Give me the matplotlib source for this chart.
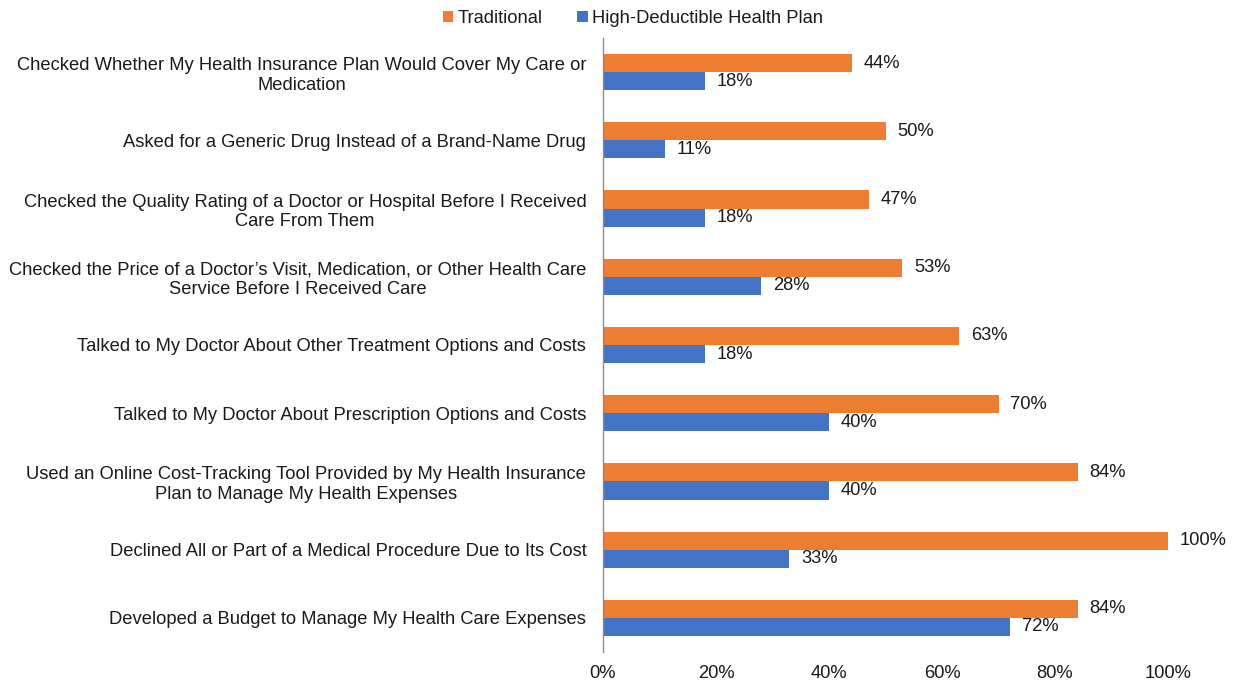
import matplotlib
matplotlib.use("Agg")
import matplotlib.pyplot as plt
import numpy as np

categories = [
    "Checked Whether My Health Insurance Plan Would Cover My Care or\nMedication",
    "Asked for a Generic Drug Instead of a Brand-Name Drug",
    "Checked the Quality Rating of a Doctor or Hospital Before I Received\nCare From Them",
    "Checked the Price of a Doctor\u2019s Visit, Medication, or Other Health Care\nService Before I Received Care",
    "Talked to My Doctor About Other Treatment Options and Costs",
    "Talked to My Doctor About Prescription Options and Costs",
    "Used an Online Cost-Tracking Tool Provided by My Health Insurance\nPlan to Manage My Health Expenses",
    "Declined All or Part of a Medical Procedure Due to Its Cost",
    "Developed a Budget to Manage My Health Care Expenses",
]
traditional = [44, 50, 47, 53, 63, 70, 84, 100, 84]
hdhp = [18, 11, 18, 28, 18, 40, 40, 33, 72]
series_names = ["Traditional", "High-Deductible Health Plan"]
xticks = [0, 20, 40, 60, 80, 100]

plt.rcParams['font.family'] = ['Liberation Sans', 'DejaVu Sans']
orange = "#ED7D31"
blue = "#4472C4"
tc = "#1a1a1a"
fs = 13.2

fig = plt.figure(figsize=(12.33, 6.82), dpi=100)
ax = fig.add_axes([603/1233, 1 - 652/682, (1168-603)/1233, (652-38)/682])

n = len(categories)
y = np.arange(n)
h = 0.265
ax.barh(y - h/2, traditional, height=h, color=orange, label=series_names[0])
ax.barh(y + h/2, hdhp, height=h, color=blue, label=series_names[1])

for yi, v in zip(y, traditional):
    ax.annotate(f"{v}%", (v, yi - h/2), xytext=(8.5, 0), textcoords="offset points",
                va="center", ha="left", fontsize=fs, color=tc)
for yi, v in zip(y, hdhp):
    ax.annotate(f"{v}%", (v, yi + h/2), xytext=(8.5, 0), textcoords="offset points",
                va="center", ha="left", fontsize=fs, color=tc)

ax.set_ylim(n - 0.5, -0.5)
ax.set_xlim(0, 100)
ax.set_yticks(y)
ax.set_yticklabels(categories, fontsize=fs, color=tc, multialignment="center")
ax.set_xticks(xticks)
ax.set_xticklabels([f"{t}%" for t in xticks], fontsize=fs, color=tc)
ax.tick_params(length=0, axis="both")
ax.tick_params(axis="y", pad=12)
ax.tick_params(axis="x", pad=9)
for s in ["top", "right", "bottom"]:
    ax.spines[s].set_visible(False)
ax.spines["left"].set_color("#8c8c8c")
ax.spines["left"].set_linewidth(1.0)

fig.legend(loc="upper center", bbox_to_anchor=(633/1233, 1.01), ncol=2, frameon=False,
           fontsize=fs, handlelength=0.55, handleheight=0.55, handletextpad=0.25,
           columnspacing=1.9, labelcolor=tc)

fig.savefig("out.png", dpi=100)
